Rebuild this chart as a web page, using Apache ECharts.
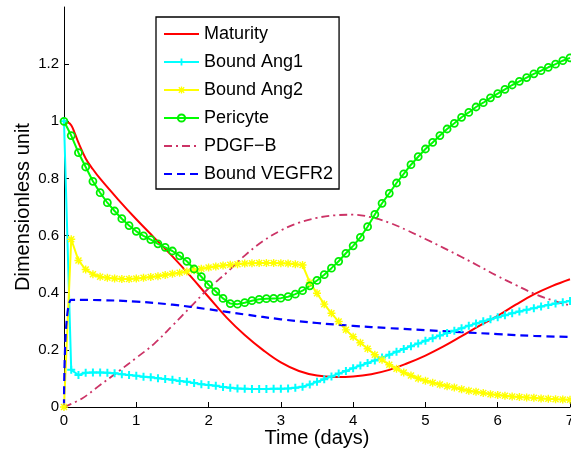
<!DOCTYPE html>
<html>
<head>
<meta charset="utf-8">
<script src="https://cdn.jsdelivr.net/npm/echarts@6/dist/echarts.min.js"></script>
<style>
  html, body { margin: 0; padding: 0; background: #fff; }
  #chart { width: 571px; height: 451px; }
</style>
</head>
<body>
<div id="chart"></div>
<script>
// time samples (days) for the marker series
const timeDays = [0, 0.1, 0.2, 0.3, 0.4, 0.5, 0.6, 0.7, 0.8, 0.9,
  1, 1.1, 1.2, 1.3, 1.4, 1.5, 1.6, 1.7, 1.8, 1.9,
  2, 2.1, 2.2, 2.3, 2.4, 2.5, 2.6, 2.7, 2.8, 2.9,
  3, 3.1, 3.2, 3.3, 3.4, 3.5, 3.6, 3.7, 3.8, 3.9,
  4, 4.1, 4.2, 4.3, 4.4, 4.5, 4.6, 4.7, 4.8, 4.9,
  5, 5.1, 5.2, 5.3, 5.4, 5.5, 5.6, 5.7, 5.8, 5.9,
  6, 6.1, 6.2, 6.3, 6.4, 6.5, 6.6, 6.7, 6.8, 6.9, 7];

const boundAng1 = [1.0, 0.13, 0.112, 0.12, 0.121, 0.121, 0.12, 0.118, 0.115, 0.112,
  0.109, 0.106, 0.104, 0.101, 0.098, 0.095, 0.091, 0.088, 0.084, 0.08,
  0.077, 0.074, 0.07, 0.067, 0.065, 0.064, 0.063, 0.063, 0.063, 0.064,
  0.064, 0.065, 0.067, 0.071, 0.079, 0.088, 0.097, 0.107, 0.117, 0.126,
  0.136, 0.145, 0.154, 0.163, 0.173, 0.183, 0.193, 0.203, 0.213, 0.222,
  0.232, 0.241, 0.25, 0.259, 0.267, 0.276, 0.284, 0.292, 0.3, 0.307,
  0.314, 0.321, 0.328, 0.334, 0.34, 0.346, 0.352, 0.357, 0.362, 0.367, 0.371];

const boundAng2 = [0, 0.587, 0.513, 0.481, 0.465, 0.456, 0.452, 0.45, 0.448, 0.448,
  0.45, 0.452, 0.455, 0.458, 0.462, 0.466, 0.47, 0.474, 0.479, 0.484,
  0.488, 0.492, 0.495, 0.498, 0.5, 0.502, 0.503, 0.504, 0.504, 0.504,
  0.503, 0.502, 0.5, 0.497, 0.436, 0.398, 0.36, 0.328, 0.299, 0.27,
  0.246, 0.225, 0.204, 0.183, 0.165, 0.148, 0.134, 0.121, 0.11, 0.1,
  0.092, 0.085, 0.079, 0.073, 0.068, 0.062, 0.057, 0.053, 0.049, 0.045,
  0.042, 0.039, 0.037, 0.035, 0.033, 0.032, 0.03, 0.029, 0.027, 0.026, 0.025];

const pericyte = [1.0, 0.95, 0.89, 0.84, 0.79, 0.75, 0.715, 0.686, 0.659, 0.635,
  0.615, 0.599, 0.586, 0.571, 0.559, 0.546, 0.529, 0.51, 0.483, 0.456,
  0.428, 0.404, 0.38, 0.362, 0.36, 0.365, 0.372, 0.377, 0.379, 0.38,
  0.381, 0.386, 0.395, 0.407, 0.424, 0.443, 0.463, 0.486, 0.51, 0.538,
  0.564, 0.594, 0.631, 0.674, 0.713, 0.748, 0.784, 0.816, 0.848, 0.876,
  0.903, 0.926, 0.95, 0.973, 0.993, 1.014, 1.031, 1.05, 1.065, 1.082,
  1.097, 1.112, 1.127, 1.14, 1.153, 1.166, 1.177, 1.189, 1.2, 1.212, 1.222];

// plain lines, read at coarser steps
const maturityT = [0, 0.05, 0.1, 0.15, 0.2, 0.3, 0.4, 0.5, 0.75, 1, 1.25, 1.5, 1.75,
  2, 2.25, 2.5, 2.75, 3, 3.25, 3.5, 3.75, 4, 4.25, 4.5, 4.75, 5, 5.25, 5.5, 5.75,
  6, 6.25, 6.5, 6.75, 7];
const maturity = [1, 0.997, 0.986, 0.958, 0.925, 0.87, 0.832, 0.799, 0.726, 0.657, 0.592, 0.527, 0.458,
  0.385, 0.313, 0.252, 0.2, 0.156, 0.126, 0.11, 0.105, 0.107, 0.115, 0.13, 0.153, 0.18, 0.212, 0.248, 0.285,
  0.319, 0.358, 0.394, 0.423, 0.447];

const pdgfT = [0, 0.25, 0.5, 0.75, 1, 1.25, 1.5, 1.75, 2, 2.25, 2.5, 2.75, 3, 3.25, 3.5,
  3.75, 4, 4.25, 4.5, 4.75, 5, 5.25, 5.5, 5.75, 6, 6.25, 6.5, 6.75, 7];
const pdgfB = [0, 0.03, 0.077, 0.124, 0.172, 0.222, 0.285, 0.35, 0.415, 0.47, 0.53, 0.58, 0.618, 0.645, 0.662,
  0.671, 0.673, 0.664, 0.645, 0.618, 0.588, 0.557, 0.525, 0.492, 0.458, 0.427, 0.397, 0.374, 0.355];

const vegfrT = [0, 0.1, 0.5, 1, 1.5, 2, 2.5, 3, 3.5, 4, 4.5, 5, 5.5, 6, 6.5, 7];
const boundVegfr2 = [0, 0.375, 0.374, 0.369, 0.358, 0.342, 0.324, 0.307, 0.294, 0.284, 0.276, 0.269, 0.262, 0.255, 0.249, 0.245];

const yTicks = ['0', '0.2', '0.4', '0.6', '0.8', '1', '1.2'];

const PLUS = 'path://M-1,-4H1V-1H4V1H1V4H-1V1H-4V-1H-1Z';
const STAR = 'path://M-4,-0.7H4V0.7H-4Z M-0.7,-4H0.7V4H-0.7Z ' +
  'M-2.5,-3.5L3.5,2.5L2.5,3.5L-3.5,-2.5Z M2.5,-3.5L3.5,-2.5L-2.5,3.5L-3.5,2.5Z';

function pairs(xs, ys) {
  return xs.map((x, i) => [x, ys[i]]);
}

const chart = echarts.init(document.getElementById('chart'));

// legend entries of plain lines: hide the marker, keep the line
const noMark = { opacity: 0 };

chart.setOption({
  animation: false,
  textStyle: { fontFamily: 'Liberation Sans, Arial, sans-serif', color: '#000' },
  grid: { left: 64, right: 1, top: 7, bottom: 44, containLabel: false, outerBoundsMode: 'none' },
  legend: {
    orient: 'vertical',
    left: 156,
    top: 17,
    padding: [8, 6, 6, 7],
    itemWidth: 35,
    itemHeight: 9,
    itemGap: 10,
    backgroundColor: '#fff',
    borderColor: '#000',
    borderWidth: 1.3,
    borderRadius: 0,
    textStyle: { fontSize: 18, lineHeight: 9, color: '#000' },
    data: [
      { name: 'Maturity', itemStyle: noMark },
      'Bound Ang1',
      'Bound Ang2',
      'Pericyte',
      { name: 'PDGF\u2212B', itemStyle: noMark },
      { name: 'Bound VEGFR2', itemStyle: noMark }
    ]
  },
  xAxis: {
    type: 'value',
    min: 0,
    max: 7,
    interval: 1,
    name: 'Time (days)',
    nameLocation: 'middle',
    nameGap: 21,
    nameMoveOverlap: false,
    nameTextStyle: { fontSize: 20, color: '#000' },
    axisLine: { lineStyle: { color: '#000', width: 1 } },
    axisTick: { inside: true, length: 5, lineStyle: { color: '#000' } },
    axisLabel: { fontSize: 15, color: '#000', margin: 6 },
    splitLine: { show: false }
  },
  yAxis: {
    type: 'value',
    min: 0,
    max: 1.4,
    interval: 0.2,
    name: 'Dimensionless unit',
    nameLocation: 'middle',
    nameGap: 31,
    nameMoveOverlap: false,
    nameTextStyle: { fontSize: 20, color: '#000' },
    axisLine: { show: true, lineStyle: { color: '#000', width: 1 } },
    axisTick: { show: true, inside: true, length: 5, lineStyle: { color: '#000' } },
    axisLabel: {
      fontSize: 15, color: '#000', margin: 5, showMaxLabel: false,
      formatter: (v) => {
        const i = Math.round(v / 0.2);
        return i < yTicks.length ? yTicks[i] : '';
      }
    },
    splitLine: { show: false }
  },
  series: [
    {
      name: 'Maturity', type: 'line', symbol: 'none', smooth: 0.4,
      data: pairs(maturityT, maturity),
      lineStyle: { color: '#ff0000', width: 2 },
      itemStyle: { color: '#ff0000' }
    },
    {
      name: 'Bound Ang1', type: 'line', symbol: PLUS, symbolSize: 8,
      data: pairs(timeDays, boundAng1),
      lineStyle: { color: '#00ffff', width: 2 },
      itemStyle: { color: '#00ffff', borderWidth: 0 }
    },
    {
      name: 'Bound Ang2', type: 'line', symbol: STAR, symbolSize: 8,
      data: pairs(timeDays, boundAng2),
      lineStyle: { color: '#ffff00', width: 2 },
      itemStyle: { color: '#ffff00', borderWidth: 0 }
    },
    {
      name: 'Pericyte', type: 'line', symbol: 'circle', symbolSize: 7,
      data: pairs(timeDays, pericyte),
      lineStyle: { color: '#00ff00', width: 2 },
      itemStyle: { color: 'rgba(0,0,0,0)', borderColor: '#00ee00', borderWidth: 1.8 }
    },
    {
      name: 'PDGF\u2212B', type: 'line', symbol: 'none', smooth: 0.4,
      data: pairs(pdgfT, pdgfB),
      lineStyle: { color: '#cc3366', width: 1.8, type: [8, 4, 2, 4] },
      itemStyle: { color: '#cc3366' }
    },
    {
      name: 'Bound VEGFR2', type: 'line', symbol: 'none', smooth: 0.4,
      data: pairs(vegfrT, boundVegfr2),
      lineStyle: { color: '#0000ff', width: 2.2, type: [8, 5] },
      itemStyle: { color: '#0000ff' }
    }
  ]
});
</script>
</body>
</html>
